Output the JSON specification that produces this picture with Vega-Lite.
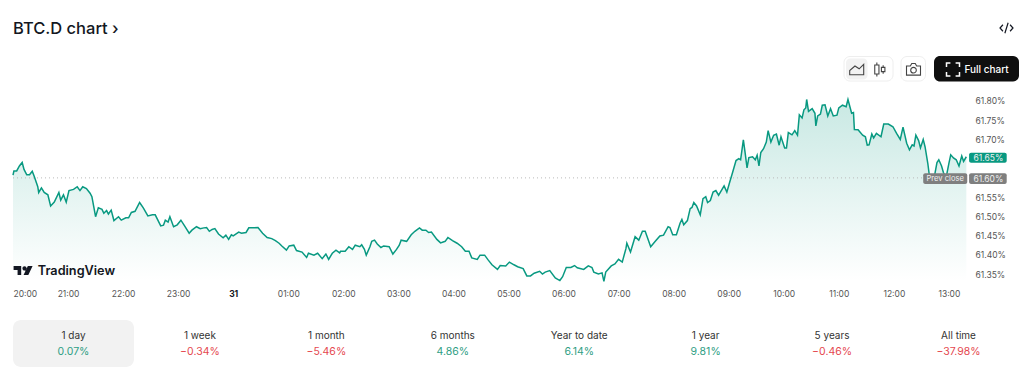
{"$schema":"https://vega.github.io/schema/vega-lite/v6.json","background":"white","padding":{"left":10,"top":0,"right":5,"bottom":9},"bounds":"flush","spacing":40,"config":{"view":{"stroke":null},"font":"Inter","text":{"font":"Inter"}},
"datasets":{"series":[
{"t":"2024-12-30T20:00","v":61.607},{"t":"2024-12-30T20:01","v":61.618},{"t":"2024-12-30T20:04","v":61.618},{"t":"2024-12-30T20:07","v":61.631},{"t":"2024-12-30T20:10","v":61.640},{"t":"2024-12-30T20:12","v":61.622},{"t":"2024-12-30T20:15","v":61.608},{"t":"2024-12-30T20:18","v":61.608},{"t":"2024-12-30T20:21","v":61.617},{"t":"2024-12-30T20:23","v":61.605},{"t":"2024-12-30T20:27","v":61.577},{"t":"2024-12-30T20:28","v":61.562},{"t":"2024-12-30T20:31","v":61.574},{"t":"2024-12-30T20:34","v":61.562},{"t":"2024-12-30T20:38","v":61.556},{"t":"2024-12-30T20:41","v":61.527},{"t":"2024-12-30T20:45","v":61.537},{"t":"2024-12-30T20:50","v":61.562},{"t":"2024-12-30T20:52","v":61.542},{"t":"2024-12-30T20:55","v":61.556},{"t":"2024-12-30T20:58","v":61.537},
{"t":"2024-12-30T21:01","v":61.567},{"t":"2024-12-30T21:06","v":61.570},{"t":"2024-12-30T21:10","v":61.577},{"t":"2024-12-30T21:13","v":61.567},{"t":"2024-12-30T21:16","v":61.577},{"t":"2024-12-30T21:20","v":61.572},{"t":"2024-12-30T21:24","v":61.560},{"t":"2024-12-30T21:26","v":61.551},{"t":"2024-12-30T21:28","v":61.525},{"t":"2024-12-30T21:30","v":61.499},{"t":"2024-12-30T21:33","v":61.522},{"t":"2024-12-30T21:37","v":61.518},{"t":"2024-12-30T21:39","v":61.508},{"t":"2024-12-30T21:42","v":61.515},{"t":"2024-12-30T21:44","v":61.506},{"t":"2024-12-30T21:47","v":61.516},{"t":"2024-12-30T21:50","v":61.489},{"t":"2024-12-30T21:55","v":61.499},{"t":"2024-12-30T21:58","v":61.490},
{"t":"2024-12-30T22:03","v":61.496},{"t":"2024-12-30T22:06","v":61.496},{"t":"2024-12-30T22:09","v":61.510},{"t":"2024-12-30T22:13","v":61.513},{"t":"2024-12-30T22:18","v":61.536},{"t":"2024-12-30T22:22","v":61.522},{"t":"2024-12-30T22:27","v":61.501},{"t":"2024-12-30T22:32","v":61.504},{"t":"2024-12-30T22:35","v":61.504},{"t":"2024-12-30T22:41","v":61.475},{"t":"2024-12-30T22:44","v":61.477},{"t":"2024-12-30T22:46","v":61.490},{"t":"2024-12-30T22:49","v":61.485},{"t":"2024-12-30T22:51","v":61.499},{"t":"2024-12-30T22:55","v":61.473},{"t":"2024-12-30T22:59","v":61.478},
{"t":"2024-12-30T23:03","v":61.490},{"t":"2024-12-30T23:07","v":61.475},{"t":"2024-12-30T23:12","v":61.456},{"t":"2024-12-30T23:15","v":61.464},{"t":"2024-12-30T23:20","v":61.473},{"t":"2024-12-30T23:24","v":61.468},{"t":"2024-12-30T23:28","v":61.470},{"t":"2024-12-30T23:31","v":61.471},{"t":"2024-12-30T23:34","v":61.461},{"t":"2024-12-30T23:37","v":61.466},{"t":"2024-12-30T23:40","v":61.468},{"t":"2024-12-30T23:44","v":61.454},{"t":"2024-12-30T23:49","v":61.444},{"t":"2024-12-30T23:52","v":61.451},{"t":"2024-12-30T23:55","v":61.440},{"t":"2024-12-30T23:58","v":61.452},
{"t":"2024-12-31T00:00","v":61.449},{"t":"2024-12-31T00:06","v":61.459},{"t":"2024-12-31T00:09","v":61.456},{"t":"2024-12-31T00:14","v":61.458},{"t":"2024-12-31T00:17","v":61.470},{"t":"2024-12-31T00:22","v":61.470},{"t":"2024-12-31T00:27","v":61.471},{"t":"2024-12-31T00:32","v":61.456},{"t":"2024-12-31T00:37","v":61.445},{"t":"2024-12-31T00:42","v":61.442},{"t":"2024-12-31T00:46","v":61.437},{"t":"2024-12-31T00:50","v":61.430},{"t":"2024-12-31T00:53","v":61.423},{"t":"2024-12-31T00:58","v":61.412},
{"t":"2024-12-31T01:01","v":61.423},{"t":"2024-12-31T01:06","v":61.425},{"t":"2024-12-31T01:09","v":61.411},{"t":"2024-12-31T01:15","v":61.407},{"t":"2024-12-31T01:20","v":61.393},{"t":"2024-12-31T01:22","v":61.404},{"t":"2024-12-31T01:28","v":61.399},{"t":"2024-12-31T01:32","v":61.404},{"t":"2024-12-31T01:37","v":61.390},{"t":"2024-12-31T01:41","v":61.402},{"t":"2024-12-31T01:44","v":61.388},{"t":"2024-12-31T01:48","v":61.404},{"t":"2024-12-31T01:52","v":61.412},{"t":"2024-12-31T01:56","v":61.405},{"t":"2024-12-31T01:57","v":61.409},
{"t":"2024-12-31T02:02","v":61.409},{"t":"2024-12-31T02:06","v":61.421},{"t":"2024-12-31T02:10","v":61.414},{"t":"2024-12-31T02:13","v":61.425},{"t":"2024-12-31T02:18","v":61.421},{"t":"2024-12-31T02:20","v":61.426},{"t":"2024-12-31T02:23","v":61.414},{"t":"2024-12-31T02:25","v":61.399},{"t":"2024-12-31T02:29","v":61.421},{"t":"2024-12-31T02:31","v":61.435},{"t":"2024-12-31T02:34","v":61.438},{"t":"2024-12-31T02:37","v":61.428},{"t":"2024-12-31T02:41","v":61.419},{"t":"2024-12-31T02:44","v":61.423},{"t":"2024-12-31T02:50","v":61.421},{"t":"2024-12-31T02:54","v":61.402},{"t":"2024-12-31T02:58","v":61.414},
{"t":"2024-12-31T03:01","v":61.425},{"t":"2024-12-31T03:03","v":61.438},{"t":"2024-12-31T03:09","v":61.435},{"t":"2024-12-31T03:14","v":61.452},{"t":"2024-12-31T03:18","v":61.461},{"t":"2024-12-31T03:23","v":61.470},{"t":"2024-12-31T03:26","v":61.464},{"t":"2024-12-31T03:30","v":61.464},{"t":"2024-12-31T03:33","v":61.458},{"t":"2024-12-31T03:36","v":61.459},{"t":"2024-12-31T03:42","v":61.440},{"t":"2024-12-31T03:46","v":61.431},{"t":"2024-12-31T03:51","v":61.435},{"t":"2024-12-31T03:54","v":61.445},{"t":"2024-12-31T03:59","v":61.437},
{"t":"2024-12-31T04:04","v":61.430},{"t":"2024-12-31T04:09","v":61.421},{"t":"2024-12-31T04:13","v":61.409},{"t":"2024-12-31T04:17","v":61.409},{"t":"2024-12-31T04:20","v":61.392},{"t":"2024-12-31T04:26","v":61.388},{"t":"2024-12-31T04:29","v":61.399},{"t":"2024-12-31T04:34","v":61.399},{"t":"2024-12-31T04:38","v":61.386},{"t":"2024-12-31T04:42","v":61.374},{"t":"2024-12-31T04:48","v":61.362},{"t":"2024-12-31T04:51","v":61.372},{"t":"2024-12-31T04:57","v":61.371},
{"t":"2024-12-31T05:01","v":61.381},{"t":"2024-12-31T05:06","v":61.374},{"t":"2024-12-31T05:10","v":61.369},{"t":"2024-12-31T05:16","v":61.364},{"t":"2024-12-31T05:20","v":61.345},{"t":"2024-12-31T05:24","v":61.345},{"t":"2024-12-31T05:28","v":61.352},{"t":"2024-12-31T05:34","v":61.357},{"t":"2024-12-31T05:37","v":61.350},{"t":"2024-12-31T05:40","v":61.355},{"t":"2024-12-31T05:45","v":61.359},{"t":"2024-12-31T05:51","v":61.340},{"t":"2024-12-31T05:56","v":61.333},{"t":"2024-12-31T05:59","v":61.343},
{"t":"2024-12-31T06:03","v":61.367},{"t":"2024-12-31T06:08","v":61.367},{"t":"2024-12-31T06:12","v":61.372},{"t":"2024-12-31T06:15","v":61.366},{"t":"2024-12-31T06:22","v":61.362},{"t":"2024-12-31T06:27","v":61.371},{"t":"2024-12-31T06:31","v":61.367},{"t":"2024-12-31T06:33","v":61.355},{"t":"2024-12-31T06:38","v":61.350},{"t":"2024-12-31T06:42","v":61.353},{"t":"2024-12-31T06:44","v":61.331},{"t":"2024-12-31T06:46","v":61.355},{"t":"2024-12-31T06:52","v":61.371},{"t":"2024-12-31T06:56","v":61.376},
{"t":"2024-12-31T07:00","v":61.388},{"t":"2024-12-31T07:04","v":61.381},{"t":"2024-12-31T07:08","v":61.416},{"t":"2024-12-31T07:09","v":61.430},{"t":"2024-12-31T07:13","v":61.407},{"t":"2024-12-31T07:18","v":61.447},{"t":"2024-12-31T07:22","v":61.438},{"t":"2024-12-31T07:26","v":61.461},{"t":"2024-12-31T07:29","v":61.461},{"t":"2024-12-31T07:35","v":61.421},{"t":"2024-12-31T07:40","v":61.435},{"t":"2024-12-31T07:45","v":61.449},{"t":"2024-12-31T07:49","v":61.451},{"t":"2024-12-31T07:54","v":61.473},{"t":"2024-12-31T07:56","v":61.471},{"t":"2024-12-31T07:59","v":61.452},
{"t":"2024-12-31T08:03","v":61.452},{"t":"2024-12-31T08:07","v":61.482},{"t":"2024-12-31T08:09","v":61.492},{"t":"2024-12-31T08:11","v":61.478},{"t":"2024-12-31T08:15","v":61.489},{"t":"2024-12-31T08:18","v":61.520},{"t":"2024-12-31T08:20","v":61.523},{"t":"2024-12-31T08:22","v":61.536},{"t":"2024-12-31T08:25","v":61.527},{"t":"2024-12-31T08:29","v":61.504},{"t":"2024-12-31T08:32","v":61.546},{"t":"2024-12-31T08:35","v":61.551},{"t":"2024-12-31T08:37","v":61.536},{"t":"2024-12-31T08:40","v":61.541},{"t":"2024-12-31T08:43","v":61.563},{"t":"2024-12-31T08:46","v":61.567},{"t":"2024-12-31T08:49","v":61.555},{"t":"2024-12-31T08:51","v":61.563},{"t":"2024-12-31T08:55","v":61.579},{"t":"2024-12-31T08:58","v":61.563},
{"t":"2024-12-31T09:01","v":61.588},{"t":"2024-12-31T09:04","v":61.612},{"t":"2024-12-31T09:08","v":61.645},{"t":"2024-12-31T09:11","v":61.650},{"t":"2024-12-31T09:13","v":61.647},{"t":"2024-12-31T09:16","v":61.699},{"t":"2024-12-31T09:18","v":61.664},{"t":"2024-12-31T09:20","v":61.626},{"t":"2024-12-31T09:22","v":61.653},{"t":"2024-12-31T09:26","v":61.655},{"t":"2024-12-31T09:29","v":61.647},{"t":"2024-12-31T09:31","v":61.659},{"t":"2024-12-31T09:33","v":61.631},{"t":"2024-12-31T09:35","v":61.666},{"t":"2024-12-31T09:38","v":61.676},{"t":"2024-12-31T09:41","v":61.693},{"t":"2024-12-31T09:43","v":61.723},{"t":"2024-12-31T09:46","v":61.693},{"t":"2024-12-31T09:49","v":61.711},{"t":"2024-12-31T09:52","v":61.714},{"t":"2024-12-31T09:55","v":61.685},{"t":"2024-12-31T09:57","v":61.707},
{"t":"2024-12-31T10:01","v":61.678},{"t":"2024-12-31T10:03","v":61.678},{"t":"2024-12-31T10:05","v":61.718},{"t":"2024-12-31T10:09","v":61.712},{"t":"2024-12-31T10:12","v":61.723},{"t":"2024-12-31T10:15","v":61.711},{"t":"2024-12-31T10:17","v":61.764},{"t":"2024-12-31T10:20","v":61.756},{"t":"2024-12-31T10:22","v":61.777},{"t":"2024-12-31T10:24","v":61.782},{"t":"2024-12-31T10:25","v":61.804},{"t":"2024-12-31T10:27","v":61.773},{"t":"2024-12-31T10:31","v":61.780},{"t":"2024-12-31T10:34","v":61.768},{"t":"2024-12-31T10:35","v":61.735},{"t":"2024-12-31T10:37","v":61.761},{"t":"2024-12-31T10:40","v":61.766},{"t":"2024-12-31T10:42","v":61.789},{"t":"2024-12-31T10:45","v":61.790},{"t":"2024-12-31T10:48","v":61.761},{"t":"2024-12-31T10:51","v":61.780},{"t":"2024-12-31T10:54","v":61.761},{"t":"2024-12-31T10:58","v":61.763},
{"t":"2024-12-31T11:00","v":61.782},{"t":"2024-12-31T11:04","v":61.789},{"t":"2024-12-31T11:08","v":61.785},{"t":"2024-12-31T11:10","v":61.804},{"t":"2024-12-31T11:14","v":61.768},{"t":"2024-12-31T11:16","v":61.770},{"t":"2024-12-31T11:17","v":61.726},{"t":"2024-12-31T11:21","v":61.725},{"t":"2024-12-31T11:26","v":61.711},{"t":"2024-12-31T11:29","v":61.707},{"t":"2024-12-31T11:31","v":61.685},{"t":"2024-12-31T11:33","v":61.686},{"t":"2024-12-31T11:36","v":61.714},{"t":"2024-12-31T11:38","v":61.704},{"t":"2024-12-31T11:41","v":61.716},{"t":"2024-12-31T11:46","v":61.707},{"t":"2024-12-31T11:49","v":61.740},{"t":"2024-12-31T11:54","v":61.740},{"t":"2024-12-31T11:59","v":61.733},
{"t":"2024-12-31T12:03","v":61.716},{"t":"2024-12-31T12:07","v":61.700},{"t":"2024-12-31T12:10","v":61.732},{"t":"2024-12-31T12:14","v":61.690},{"t":"2024-12-31T12:17","v":61.673},{"t":"2024-12-31T12:20","v":61.686},{"t":"2024-12-31T12:22","v":61.683},{"t":"2024-12-31T12:24","v":61.711},{"t":"2024-12-31T12:27","v":61.697},{"t":"2024-12-31T12:29","v":61.678},{"t":"2024-12-31T12:32","v":61.700},{"t":"2024-12-31T12:34","v":61.681},{"t":"2024-12-31T12:37","v":61.638},{"t":"2024-12-31T12:39","v":61.601},{"t":"2024-12-31T12:44","v":61.601},{"t":"2024-12-31T12:47","v":61.640},{"t":"2024-12-31T12:49","v":61.647},{"t":"2024-12-31T12:52","v":61.631},{"t":"2024-12-31T12:54","v":61.614},{"t":"2024-12-31T12:57","v":61.601},
{"t":"2024-12-31T13:00","v":61.638},{"t":"2024-12-31T13:02","v":61.660},{"t":"2024-12-31T13:05","v":61.652},{"t":"2024-12-31T13:08","v":61.647},{"t":"2024-12-31T13:11","v":61.631},{"t":"2024-12-31T13:14","v":61.657},{"t":"2024-12-31T13:16","v":61.643},{"t":"2024-12-31T13:19","v":61.655}
],
"stats":[{"period":"1 day","change":"0.07%","direction":"up"},{"period":"1 week","change":"−0.34%","direction":"down"},{"period":"1 month","change":"−5.46%","direction":"down"},{"period":"6 months","change":"4.86%","direction":"up"},{"period":"Year to date","change":"6.14%","direction":"up"},{"period":"1 year","change":"9.81%","direction":"up"},{"period":"5 years","change":"−0.46%","direction":"down"},{"period":"All time","change":"−37.98%","direction":"down"}]},
"vconcat":[
{"width":1006,"height":50,"data":{"values":[{"item":"header"}]},
"layer":[
{"mark":{"type":"text","align":"left","baseline":"middle","fontSize":16.5,"fontWeight":500,"color":"#131722"},"encoding":{"text":{"value":"BTC.D chart ›"},"x":{"datum":13,"scale":{"domain":[13,1019]},"axis":null},"y":{"datum":29,"scale":{"domain":[0,50],"reverse":true},"axis":null}}},
{"mark":{"type":"point","filled":false,"stroke":"#131722","strokeWidth":1.2,"opacity":1,"shape":"M-0.55,-0.5L-1,0L-0.55,0.5M0.55,-0.5L1,0L0.55,0.5M0.25,-0.8L-0.25,0.8","size":169},"encoding":{"x":{"datum":1006.5,"scale":{"domain":[13,1019]},"axis":null},"y":{"datum":28,"scale":{"domain":[0,50],"reverse":true},"axis":null}}},
{"mark":{"type":"rect","fill":"white","stroke":"#eeeeee","strokeWidth":1,"cornerRadius":6},"encoding":{"x":{"datum":844,"scale":{"domain":[13,1019]},"axis":null},"x2":{"datum":893},"y":{"datum":56.5,"scale":{"domain":[0,50],"reverse":true},"axis":null},"y2":{"datum":81}}},
{"mark":{"type":"rect","fill":"#f2f2f2","cornerRadius":4},"encoding":{"x":{"datum":846,"scale":{"domain":[13,1019]},"axis":null},"x2":{"datum":867.5},"y":{"datum":58.5,"scale":{"domain":[0,50],"reverse":true},"axis":null},"y2":{"datum":79.5}}},
{"mark":{"type":"rect","fill":"white","stroke":"#eeeeee","strokeWidth":1,"cornerRadius":6},"encoding":{"x":{"datum":901,"scale":{"domain":[13,1019]},"axis":null},"x2":{"datum":925.5},"y":{"datum":56.5,"scale":{"domain":[0,50],"reverse":true},"axis":null},"y2":{"datum":81}}},
{"mark":{"type":"rect","fill":"#0f0f0f","cornerRadius":6},"encoding":{"x":{"datum":934,"scale":{"domain":[13,1019]},"axis":null},"x2":{"datum":1019},"y":{"datum":56,"scale":{"domain":[0,50],"reverse":true},"axis":null},"y2":{"datum":81.5}}},
{"mark":{"type":"point","filled":false,"stroke":"#444444","strokeWidth":1.1,"opacity":1,"shape":"M-1,0.75H1V-0.75L0.35,-0.1L-0.25,-0.5L-1,0.15Z","size":196},"encoding":{"x":{"datum":856.7,"scale":{"domain":[13,1019]},"axis":null},"y":{"datum":69.5,"scale":{"domain":[0,50],"reverse":true},"axis":null}}},
{"mark":{"type":"point","filled":false,"stroke":"#444444","strokeWidth":1.1,"opacity":1,"shape":"M-0.45,-1V-0.65M-0.45,0.65V1M-0.75,-0.65H-0.15V0.65H-0.75ZM0.45,-0.6V-0.3M0.45,0.3V0.6M0.2,-0.3H0.7V0.3H0.2Z","size":196},"encoding":{"x":{"datum":880,"scale":{"domain":[13,1019]},"axis":null},"y":{"datum":69.5,"scale":{"domain":[0,50],"reverse":true},"axis":null}}},
{"mark":{"type":"point","filled":false,"stroke":"#444444","strokeWidth":1.1,"opacity":1,"shape":"M-1,-0.5H-0.45L-0.25,-0.85H0.25L0.45,-0.5H1V0.8H-1ZM-0.4,0.1a0.4,0.4 0 1,0 0.8,0a0.4,0.4 0 1,0 -0.8,0Z","size":196},"encoding":{"x":{"datum":913.5,"scale":{"domain":[13,1019]},"axis":null},"y":{"datum":69.5,"scale":{"domain":[0,50],"reverse":true},"axis":null}}},
{"mark":{"type":"point","filled":false,"stroke":"white","strokeWidth":1.5,"opacity":1,"shape":"M-1,-0.4V-1H-0.4M0.4,-1H1V-0.4M1,0.4V1H0.4M-0.4,1H-1V0.4","size":169},"encoding":{"x":{"datum":953,"scale":{"domain":[13,1019]},"axis":null},"y":{"datum":69.5,"scale":{"domain":[0,50],"reverse":true},"axis":null}}},
{"mark":{"type":"text","align":"left","baseline":"middle","fontSize":10,"fontWeight":500,"color":"white"},"encoding":{"text":{"value":"Full chart"},"x":{"datum":964.5,"scale":{"domain":[13,1019]},"axis":null},"y":{"datum":69.5,"scale":{"domain":[0,50],"reverse":true},"axis":null}}}
]},
{"width":957,"height":190,
"layer":[
{"data":{"name":"series"},"mark":{"type":"area","fill":{"gradient":"linear","x1":0,"y1":0,"x2":0,"y2":1,"stops":[{"offset":0,"color":"rgba(8,153,129,0.22)"},{"offset":1,"color":"rgba(8,153,129,0)"}]}},"encoding":{"x":{"field":"t","type":"temporal","scale":{"domain":[{"year":2024,"month":12,"date":30,"hours":20},{"year":2024,"month":12,"date":31,"hours":13,"minutes":23}]},"axis":{"title":null,"ticks":false,"domain":false,"grid":false,"labelFlush":true,"labelOverlap":false,"tickCount":30,"labelFont":"Inter","labelFontSize":8.5,"labelPadding":9,"labelColor":{"condition":{"test":"hours(datum.value)==0","value":"#131722"},"value":"#555555"},"labelFontWeight":{"condition":{"test":"hours(datum.value)==0","value":700},"value":400},"labelExpr":"hours(datum.value)==0 ? '31' : timeFormat(datum.value,'%H:%M')","values":[{"year":2024,"month":12,"date":30,"hours":20},{"year":2024,"month":12,"date":30,"hours":21},{"year":2024,"month":12,"date":30,"hours":22},{"year":2024,"month":12,"date":30,"hours":23},{"year":2024,"month":12,"date":31,"hours":0},{"year":2024,"month":12,"date":31,"hours":1},{"year":2024,"month":12,"date":31,"hours":2},{"year":2024,"month":12,"date":31,"hours":3},{"year":2024,"month":12,"date":31,"hours":4},{"year":2024,"month":12,"date":31,"hours":5},{"year":2024,"month":12,"date":31,"hours":6},{"year":2024,"month":12,"date":31,"hours":7},{"year":2024,"month":12,"date":31,"hours":8},{"year":2024,"month":12,"date":31,"hours":9},{"year":2024,"month":12,"date":31,"hours":10},{"year":2024,"month":12,"date":31,"hours":11},{"year":2024,"month":12,"date":31,"hours":12},{"year":2024,"month":12,"date":31,"hours":13}]}},"y":{"field":"v","type":"quantitative","scale":{"domain":[61.3344,61.8286],"nice":false,"zero":false},"axis":{"orient":"right","title":null,"ticks":false,"domain":false,"grid":false,"labelOverlap":false,"tickCount":20,"labelFont":"Inter","labelFontSize":8.5,"labelPadding":5,"labelColor":"#555555","format":".2f","labelExpr":"datum.label+'%'","values":[61.35,61.4,61.45,61.5,61.55,61.7,61.75,61.8]}},"y2":{"datum":61.3344}}},
{"data":{"name":"series"},"mark":{"type":"line","color":"#089981","strokeWidth":1.5,"interpolate":"linear"},"encoding":{"x":{"field":"t","type":"temporal","scale":{"domain":[{"year":2024,"month":12,"date":30,"hours":20},{"year":2024,"month":12,"date":31,"hours":13,"minutes":23}]}},"y":{"field":"v","type":"quantitative","scale":{"domain":[61.3344,61.8286],"nice":false,"zero":false}}}},
{"data":{"values":[{"level":"Prev close","v":61.6}]},"mark":{"type":"rule","color":"#bbbbbb","strokeWidth":1,"strokeDash":[1,3]},"encoding":{"y":{"field":"v","type":"quantitative","scale":{"domain":[61.3344,61.8286],"nice":false,"zero":false}}}},
{"data":{"values":[{"badge":"Prev close"}]},"mark":{"type":"rect","fill":"#7f7f7f","cornerRadius":2},"encoding":{"x":{"datum":{"year":2024,"month":12,"date":31,"hours":12,"minutes":32},"type":"temporal","scale":{"domain":[{"year":2024,"month":12,"date":30,"hours":20},{"year":2024,"month":12,"date":31,"hours":13,"minutes":23}]}},"x2":{"datum":{"year":2024,"month":12,"date":31,"hours":13,"minutes":20}},"y":{"datum":61.612,"scale":{"domain":[61.3344,61.8286],"nice":false,"zero":false}},"y2":{"datum":61.584}}},
{"data":{"values":[{"badge":"61.60%"}]},"mark":{"type":"rect","fill":"#7f7f7f","cornerRadius":2},"encoding":{"x":{"datum":{"year":2024,"month":12,"date":31,"hours":13,"minutes":22},"type":"temporal","scale":{"domain":[{"year":2024,"month":12,"date":30,"hours":20},{"year":2024,"month":12,"date":31,"hours":13,"minutes":23}]}},"x2":{"datum":{"year":2024,"month":12,"date":31,"hours":14,"minutes":3}},"y":{"datum":61.612,"scale":{"domain":[61.3344,61.8286],"nice":false,"zero":false}},"y2":{"datum":61.584}}},
{"data":{"values":[{"badge":"61.65%"}]},"mark":{"type":"rect","fill":"#089981","cornerRadius":2},"encoding":{"x":{"datum":{"year":2024,"month":12,"date":31,"hours":13,"minutes":22},"type":"temporal","scale":{"domain":[{"year":2024,"month":12,"date":30,"hours":20},{"year":2024,"month":12,"date":31,"hours":13,"minutes":23}]}},"x2":{"datum":{"year":2024,"month":12,"date":31,"hours":14,"minutes":3}},"y":{"datum":61.6656,"scale":{"domain":[61.3344,61.8286],"nice":false,"zero":false}},"y2":{"datum":61.6396}}},
{"data":{"values":[{"label":"Prev close"}]},"mark":{"type":"text","align":"center","baseline":"middle","fontSize":7.6,"color":"#f0f0f0"},"encoding":{"text":{"field":"label"},"x":{"datum":{"year":2024,"month":12,"date":31,"hours":12,"minutes":56},"type":"temporal","scale":{"domain":[{"year":2024,"month":12,"date":30,"hours":20},{"year":2024,"month":12,"date":31,"hours":13,"minutes":23}]}},"y":{"datum":61.598,"scale":{"domain":[61.3344,61.8286],"nice":false,"zero":false}}}},
{"data":{"values":[{"label":"61.60%"}]},"mark":{"type":"text","align":"center","baseline":"middle","fontSize":8.5,"color":"#f0f0f0"},"encoding":{"text":{"field":"label"},"x":{"datum":{"year":2024,"month":12,"date":31,"hours":13,"minutes":43},"type":"temporal","scale":{"domain":[{"year":2024,"month":12,"date":30,"hours":20},{"year":2024,"month":12,"date":31,"hours":13,"minutes":23}]}},"y":{"datum":61.598,"scale":{"domain":[61.3344,61.8286],"nice":false,"zero":false}}}},
{"data":{"values":[{"label":"61.65%"}]},"mark":{"type":"text","align":"center","baseline":"middle","fontSize":8.5,"color":"#f0f0f0"},"encoding":{"text":{"field":"label"},"x":{"datum":{"year":2024,"month":12,"date":31,"hours":13,"minutes":43},"type":"temporal","scale":{"domain":[{"year":2024,"month":12,"date":30,"hours":20},{"year":2024,"month":12,"date":31,"hours":13,"minutes":23}]}},"y":{"datum":61.6526,"scale":{"domain":[61.3344,61.8286],"nice":false,"zero":false}}}},
{"data":{"values":[{"logo":"TradingView"}]},"mark":{"type":"point","filled":true,"fill":"#131722","strokeWidth":0,"opacity":1,"size":361,"shape":"M-1,-0.47H-0.2V0.47H-0.58V-0.05H-1ZM-0.07,-0.22a0.22,0.22 0 1,0 0.44,0a0.22,0.22 0 1,0 -0.44,0ZM0.5,-0.47H1L0.55,0.47H0.05Z"},"encoding":{"x":{"datum":{"year":2024,"month":12,"date":30,"hours":20,"minutes":11},"type":"temporal","scale":{"domain":[{"year":2024,"month":12,"date":30,"hours":20},{"year":2024,"month":12,"date":31,"hours":13,"minutes":23}]}},"y":{"datum":61.359,"scale":{"domain":[61.3344,61.8286],"nice":false,"zero":false}}}},
{"data":{"values":[{"logo":"TradingView"}]},"mark":{"type":"text","align":"left","baseline":"middle","fontSize":12.7,"fontWeight":600,"color":"#131722"},"encoding":{"text":{"field":"logo"},"x":{"datum":{"year":2024,"month":12,"date":30,"hours":20,"minutes":27},"type":"temporal","scale":{"domain":[{"year":2024,"month":12,"date":30,"hours":20},{"year":2024,"month":12,"date":31,"hours":13,"minutes":23}]}},"y":{"datum":61.359,"scale":{"domain":[61.3344,61.8286],"nice":false,"zero":false}}}}
]},
{"width":1006,"height":47,"data":{"name":"stats"},
"layer":[
{"transform":[{"filter":"datum.period==='1 day'"}],"mark":{"type":"rect","fill":"#f2f2f2","cornerRadius":8},"encoding":{"x":{"field":"period","type":"nominal","sort":null,"scale":{"type":"band","domain":["1 day","1 week","1 month","6 months","Year to date","1 year","5 years","All time"],"paddingInner":0.043,"paddingOuter":0},"axis":null}}},
{"mark":{"type":"text","align":"center","baseline":"middle","dy":-7.5,"fontSize":10,"color":"#333333"},"encoding":{"text":{"field":"period"},"x":{"field":"period","type":"nominal","sort":null,"scale":{"type":"band","domain":["1 day","1 week","1 month","6 months","Year to date","1 year","5 years","All time"],"paddingInner":0.043,"paddingOuter":0},"axis":null}}},
{"mark":{"type":"text","align":"center","baseline":"middle","dy":8.5,"fontSize":10.5},"encoding":{"text":{"field":"change"},"color":{"field":"direction","type":"nominal","scale":{"domain":["up","down"],"range":["#2f9e84","#e5484f"]},"legend":null},"x":{"field":"period","type":"nominal","sort":null,"scale":{"type":"band","domain":["1 day","1 week","1 month","6 months","Year to date","1 year","5 years","All time"],"paddingInner":0.043,"paddingOuter":0},"axis":null}}}
]}
]}
